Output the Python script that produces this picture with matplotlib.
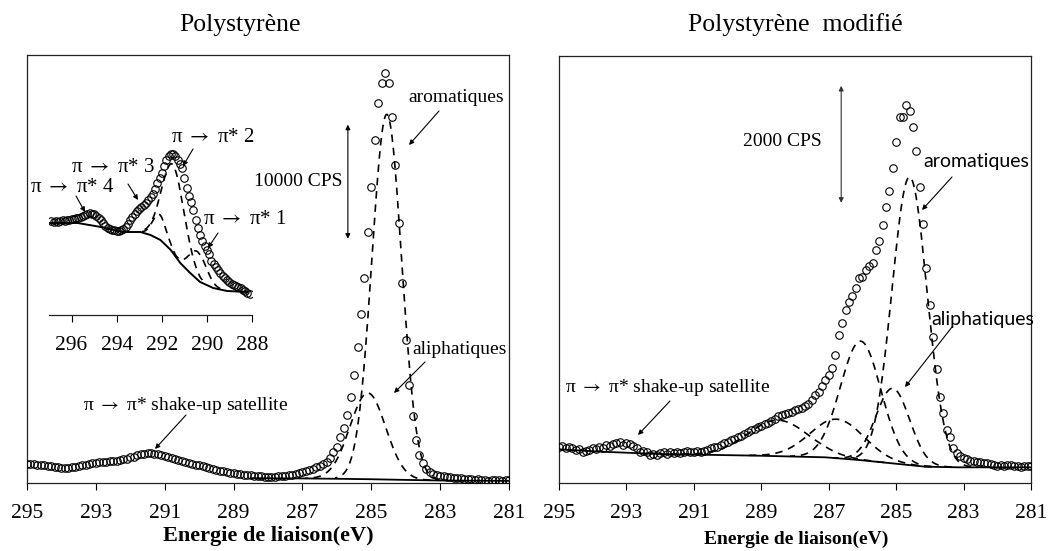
import numpy as np
import matplotlib
matplotlib.use("Agg")
import matplotlib.pyplot as plt

plt.rcParams["mathtext.fontset"] = "stix"

W, H = 1055, 551
SERIF = ["Liberation Serif", "DejaVu Serif"]
SANS = ["Lato", "DejaVu Sans"]
ARROW = r"$\rightarrow$"

# ---------------------------------------------------------------- data
# C1s spectra, binding energy grid (0.1 eV step)
energy = np.round(np.linspace(281.0, 295.0, 141), 1)

# Polystyrene, counts per second
ps_counts = [263, 263, 175, 263, 263, 263, 175, 263, 263, 351,
             263, 351, 351, 351, 439, 439, 439, 526, 526, 614,
             614, 702, 789, 965, 1228, 1754, 2456, 3771, 5876, 8595,
             12541, 17540, 22802, 27889, 32098, 35080, 35957, 35080, 33326, 30081,
             25959, 22013, 17979, 14821, 11927, 9472, 7542, 5964, 4824, 4034,
             3157, 2719, 2193, 1842, 1666, 1491, 1403, 1228, 1140, 1052,
             965, 877, 789, 702, 702, 614, 614, 614, 526, 526,
             526, 526, 614, 614, 614, 702, 702, 702, 789, 789,
             877, 877, 965, 1052, 1052, 1140, 1228, 1316, 1403, 1491,
             1579, 1579, 1666, 1754, 1842, 1929, 2017, 2105, 2193, 2280,
             2368, 2456, 2543, 2543, 2590, 2590, 2543, 2500, 2410, 2320,
             2240, 2105, 2060, 2017, 1970, 1929, 1885, 1842, 1842, 1800,
             1754, 1710, 1666, 1620, 1579, 1491, 1403, 1360, 1316, 1316,
             1316, 1360, 1403, 1450, 1491, 1535, 1579, 1620, 1666, 1666,
             1666]

# Modified polystyrene, counts per second
psm_counts = [291, 291, 291, 274, 291, 291, 308, 308, 291, 308,
              291, 308, 325, 342, 342, 359, 359, 376, 376, 410,
              428, 462, 513, 599, 787, 906, 1197, 1471, 1949, 2497,
              3044, 3677, 4429, 5062, 5677, 6088, 6361, 6464, 6259, 6259,
              5831, 5387, 4993, 4720, 4412, 4138, 3984, 3762, 3711, 3642,
              3523, 3506, 3335, 3198, 3095, 2958, 2736, 2530, 2190, 1967,
              1847, 1761, 1659, 1556, 1505, 1419, 1351, 1317, 1283, 1265,
              1248, 1214, 1197, 1180, 1163, 1146, 1094, 1060, 1026, 1009,
              975, 958, 923, 906, 872, 838, 804, 787, 752, 735,
              701, 684, 650, 616, 616, 599, 564, 547, 530, 547,
              530, 530, 547, 530, 513, 530, 513, 530, 496, 530,
              513, 479, 496, 479, 530, 547, 530, 599, 633, 667,
              684, 650, 701, 684, 667, 633, 650, 599, 616, 581,
              599, 564, 547, 530, 581, 564, 599, 616, 599, 633,
              616]

# Shirley-type backgrounds (energy, counts)
ps_bg_energy = [281.0, 282.0, 283.0, 284.0, 285.0, 286.0, 287.0, 288.5]
ps_bg_counts = [190, 200, 220, 270, 330, 370, 400, 420]
psm_bg_energy = [281.0, 283.15, 284.14, 285.13, 286.1, 287.1, 289.1, 292.05, 293.74, 295.0]
psm_bg_counts = [268, 268, 279, 337, 393, 439, 467, 496, 535, 576]

# Fitted components: (centre eV, sigma eV, height cps above background)
ps_peaks = [(284.55, 0.43, 32000),   # aromatiques
            (285.10, 0.52, 7550)]    # aliphatiques
psm_peaks = [(284.60, 0.52, 4925),   # aromatiques
             (285.10, 0.50, 1283),   # aliphatiques
             (286.05, 0.60, 2035),
             (286.75, 0.80, 667),
             (288.50, 0.90, 615)]

# Shake-up region of polystyrene (arbitrary units)
sat_energy = np.round(np.linspace(296.9, 288.1, 89), 1)
sat_counts = [94, 93, 94, 93, 94, 95, 94, 95, 95, 96,
              96, 97, 97, 98, 99, 100, 101, 102, 101, 101,
              99, 97, 95, 92, 89, 87, 86, 85, 85, 84,
              84, 85, 86, 88, 91, 95, 98, 101, 104, 106,
              108, 110, 112, 115, 118, 121, 126, 132, 137, 142,
              149, 155, 159, 161, 161, 159, 155, 151, 147, 137,
              127, 119, 113, 105, 95, 87, 80, 74, 69, 65,
              61, 54, 51, 48, 45, 42, 39, 37, 35, 33,
              31, 30, 29, 28, 27, 25, 24, 22, 21]
sat_bg_energy = [288.2, 289.1, 289.72, 290.3, 290.74, 291.18, 291.6, 292.06,
                 292.5, 292.95, 293.74, 294.7, 295.73, 296.96]
sat_bg_counts = [23, 24, 27, 33, 42, 52, 65, 75, 80, 83, 83, 88, 92, 92]
sat_peaks = [(290.40, 0.38, 28),     # pi -> pi* 1
             (291.50, 0.50, 88),     # pi -> pi* 2
             (292.10, 0.30, 25)]     # pi -> pi* 3

energy_ticks = [295, 293, 291, 289, 287, 285, 283, 281]
sat_ticks = [296, 294, 292, 290, 288]


# ---------------------------------------------------------------- helpers
def gauss(x, c, s, h):
    return h * np.exp(-0.5 * ((x - c) / s) ** 2)


def draw_components(ax, peaks, bg_e, bg_c, nsig=3.5, lw=1.2):
    for c, s, h in peaks:
        x = np.linspace(c - nsig * s, c + nsig * s, 300)
        y = np.interp(x, bg_e, bg_c) + gauss(x, c, s, h)
        ax.plot(x, y, color="black", lw=lw, ls=(0, (4.5, 3.5)), zorder=2)


def fx(x):
    return x / W


def fy(y):
    return 1 - y / H


def label(text, x, y, size=14, family=SERIF, **kw):
    fig.text(fx(x), fy(y), text, ha="center", va="center",
             fontsize=size, family=family, **kw)


def arrow(x0, y0, x1, y1, style="-|>"):
    fig.add_artist(matplotlib.patches.FancyArrowPatch(
        (fx(x0), fy(y0)), (fx(x1), fy(y1)), transform=fig.transFigure,
        arrowstyle=style, mutation_scale=7, lw=0.8, color="black",
        shrinkA=0, shrinkB=0))


def style_energy_axis(ax, ticks, pad=10):
    ax.set_xticks(ticks)
    ax.set_xticklabels([str(t) for t in ticks], family=SERIF, fontsize=15.5)
    ax.set_yticks([])
    ax.tick_params(axis="x", direction="out", length=5, width=0.8, pad=pad)


def style_main(ax, ymax):
    ax.set_xlim(295, 281)
    ax.set_ylim(0, ymax)
    style_energy_axis(ax, energy_ticks)
    for sp in ax.spines.values():
        sp.set_linewidth(0.9)
        sp.set_color("#222222")


# ---------------------------------------------------------------- figure
fig = plt.figure(figsize=(W / 100, H / 100), dpi=100)

mk = dict(ls="none", marker="o", ms=5.4, mfc="none", mec="black", mew=0.8, zorder=3)

# Left: polystyrene
axL = fig.add_axes([fx(27), 1 - 483 / H, 482 / W, 428 / H])
style_main(axL, 37500)
axL.plot(energy, ps_counts, **mk)
axL.plot(ps_bg_energy, ps_bg_counts, color="black", lw=1.3, zorder=2)
draw_components(axL, ps_peaks, ps_bg_energy, ps_bg_counts)
axL.annotate("", xy=(285.68, 21400), xytext=(285.68, 31400),
             arrowprops=dict(arrowstyle="<|-|>", mutation_scale=7, lw=0.8,
                             color="black", shrinkA=0, shrinkB=0))

# Inset: shake-up satellites
axI = fig.add_axes([fx(49), 1 - 315 / H, 203 / W, 175 / H])
axI.set_xlim(297, 288)
axI.set_ylim(0, 175)
axI.patch.set_alpha(0)
for side in ("top", "left", "right"):
    axI.spines[side].set_visible(False)
axI.spines["bottom"].set_linewidth(0.9)
axI.spines["bottom"].set_color("#222222")
style_energy_axis(axI, sat_ticks, pad=10)
axI.plot(sat_energy, sat_counts, **mk)
axI.plot(sat_bg_energy, sat_bg_counts, color="black", lw=1.4, zorder=2)
draw_components(axI, sat_peaks, sat_bg_energy, sat_bg_counts, nsig=2.6)

# Right: modified polystyrene
axR = fig.add_axes([fx(559), 1 - 483 / H, 472 / W, 427 / H])
style_main(axR, 7300)
axR.plot(energy, psm_counts, **mk)
axR.plot(psm_bg_energy, psm_bg_counts, color="black", lw=1.3, zorder=2)
draw_components(axR, psm_peaks, psm_bg_energy, psm_bg_counts)
axR.annotate("", xy=(286.63, 4790), xytext=(286.63, 6790),
             arrowprops=dict(arrowstyle="<|-|>", mutation_scale=7, lw=0.8,
                             color="#333333", shrinkA=0, shrinkB=0))

# ---------------------------------------------------------------- text
label("Polystyrène", 240, 25, size=18.5)
label("Polystyrène  modifié", 795, 25, size=18.5)
label("Energie de liaison(eV)", 268, 536, size=16, weight="bold")
label("Energie de liaison(eV)", 796, 539, size=14, weight="bold")

label("aromatiques", 456, 97, size=14)
arrow(439, 111, 409, 145)
label("10000 CPS", 298, 182, size=14)
label(f"π {ARROW} π* 2", 213, 138, size=15)
arrow(193, 149, 183, 166)
label(f"π {ARROW} π* 3", 113, 168, size=15)
arrow(128, 184, 138, 200)
label(f"π {ARROW} π* 4", 72, 187, size=15)
arrow(76, 196, 85, 212)
label(f"π {ARROW} π* 1", 245, 220, size=15)
arrow(218, 233, 208, 248)
label("aliphatiques", 460, 349, size=14)
arrow(425, 362, 394, 393)
label(f"π {ARROW} π* shake-up satellite", 186, 406, size=14)
arrow(186, 415, 155, 449)

label("2000 CPS", 782, 142, size=14)
label("aromatiques", 976, 162, size=14, family=SANS)
arrow(952, 177, 922, 210)
label("aliphatiques", 983, 320, size=14, family=SANS)
arrow(952, 327, 905, 387)
label(f"π {ARROW} π* shake-up satellite", 667.5, 387, size=14)
arrow(670, 401, 638, 435)

fig.savefig("out.png", dpi=100)
